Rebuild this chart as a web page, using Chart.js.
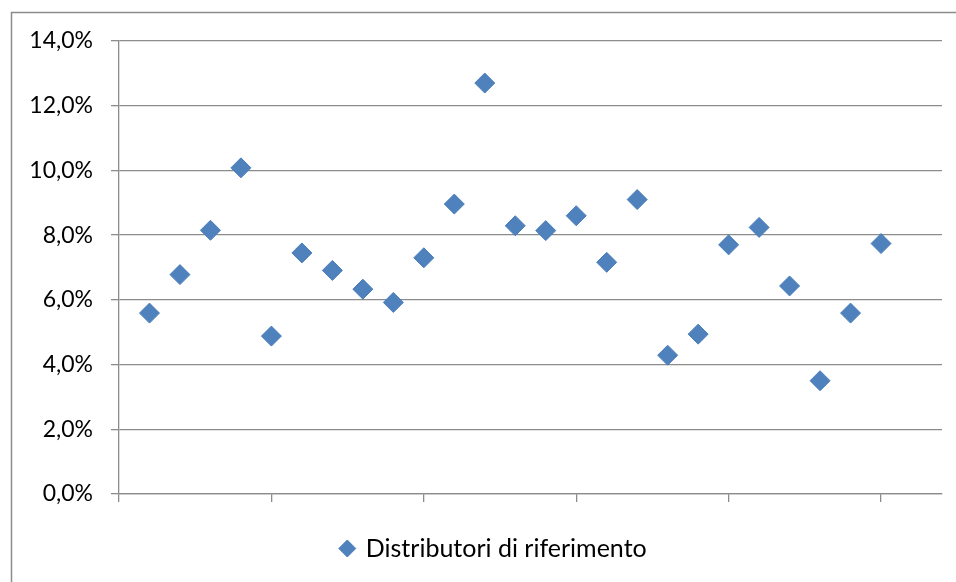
<!DOCTYPE html>
<html>
<head>
<meta charset="utf-8">
<script src="https://cdn.jsdelivr.net/npm/chart.js@4"></script>
<style>
html,body{margin:0;padding:0;background:#fff;}
#wrap{position:relative;width:956px;height:582px;}
</style>
</head>
<body>
<div id="wrap"><canvas id="c" width="956" height="582"></canvas></div>
<script>
const seriesName = "Distributori di riferimento";
const xValues = [1,2,3,4,5,6,7,8,9,10,11,12,13,14,15,16,17,18,19,20,21,22,23,24,25];
const yValues = [5.59,6.78,8.15,10.08,4.88,7.45,6.91,6.33,5.92,7.30,8.96,12.70,8.29,8.14,8.60,7.16,9.10,4.29,4.94,7.70,8.24,6.43,3.50,5.59,7.74];
const yTicks = [0,2,4,6,8,10,12,14];
const xTicks = [0,5,10,15,20,25];

const points = xValues.map((x,i)=>({x:x,y:yValues[i]}));
const gridCol = '#8c8c8c';
const FONT = 'Lato, "Open Sans", sans-serif';

const framePlugin = {
  id:'frame',
  afterLayout(chart){
    if (chart.legend) { chart.legend.left += 23; chart.legend.right += 23; }
  },
  beforeDraw(chart){
    const ctx = chart.ctx;
    ctx.save();
    ctx.strokeStyle = '#8c8c8c';
    ctx.lineWidth = 1.5;
    ctx.strokeRect(11.5, 12.5, 960, 600);
    ctx.restore();
  }
};

new Chart(document.getElementById('c'), {
  type:'scatter',
  data:{datasets:[{
    label: seriesName,
    data: points,
    pointStyle:'rectRot',
    pointRadius:10,
    pointHoverRadius:10,
    backgroundColor:'#4F81BD',
    borderColor:'#4A7EBB',
    borderWidth:1
  }]},
  options:{
    responsive:false,
    animation:false,
    events:[],
    layout:{padding:{left:0,top:41,right:14,bottom:11}},
    scales:{
      x:{
        type:'linear', min:0, max:27,
        afterBuildTicks(s){ s.ticks = xTicks.map(v=>({value:v})); },
        afterFit(s){ s.height = 22; },
        ticks:{display:false},
        grid:{drawOnChartArea:false, drawTicks:true, tickLength:8, color:gridCol, lineWidth:1.3},
        border:{color:gridCol, width:1.3}
      },
      y:{
        type:'linear', min:0, max:14,
        afterBuildTicks(s){ s.ticks = yTicks.map(v=>({value:v})); },
        afterFit(s){ s.width = 119; },
        ticks:{
          callback:(v)=>v.toFixed(1).replace('.',',')+'%',
          font:{family:FONT,size:23}, color:'#000', padding:18
        },
        grid:{color:gridCol, lineWidth:1.3, tickLength:8},
        border:{color:gridCol, width:1.3}
      }
    },
    plugins:{
      legend:{
        position:'bottom',
        labels:{
          usePointStyle:true, boxHeight:12, boxWidth:12,
          font:{family:FONT,size:25}, color:'#000', padding:20
        }
      },
      tooltip:{enabled:false}
    }
  },
  plugins:[framePlugin]
});
</script>
</body>
</html>
